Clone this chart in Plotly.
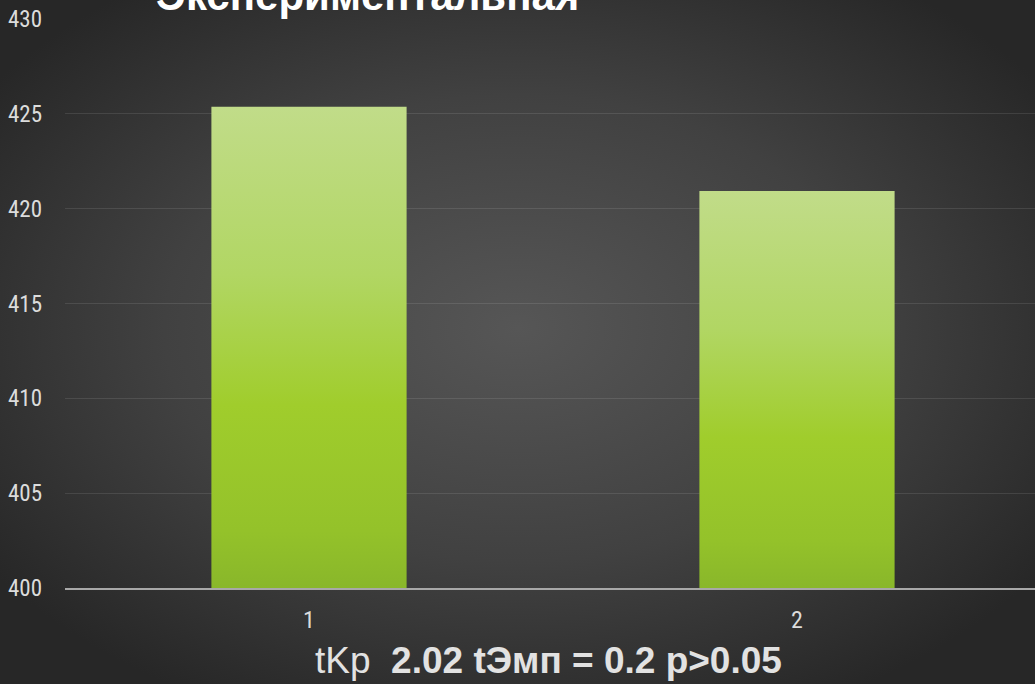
import base64
import plotly.graph_objects as go

# ---- data ----
categories = ["1", "2"]
values = [425.37, 420.93]
y_ticks = [400, 405, 410, 415, 420, 425, 430]
title_text = "Экспериментальная"
footer_regular = "tKp "
footer_bold = "2.02 tЭмп = 0.2 p>0.05"

BASE = 400
BAR_HALF = 0.2

W, H = 1035, 684
ML, MR, MT, MB = 65, 0, 19, 96
PW, PH = W - ML - MR, H - MT - MB

fig = go.Figure()

grad = [[0.0, "#89b72a"], [0.12, "#94c22a"], [0.38, "#a0cd2c"],
        [0.65, "#b1d663"], [1.0, "#c1dc89"]]

for i, (cat, v) in enumerate(zip(categories, values)):
    xs = [i - BAR_HALF, i - BAR_HALF, i + BAR_HALF, i + BAR_HALF, i - BAR_HALF]
    ys = [BASE, v, v, BASE, BASE]
    fig.add_trace(go.Scatter(
        x=xs, y=ys, mode="lines", fill="toself",
        line=dict(width=0, color="rgba(0,0,0,0)"),
        fillgradient=dict(type="vertical", colorscale=grad),
        hoverinfo="skip", showlegend=False,
    ))

# radial background
svg = f'''<svg xmlns="http://www.w3.org/2000/svg" width="{W}" height="{H}">
<defs><radialGradient id="g" cx="50%" cy="48%" r="62%">
<stop offset="0" stop-color="#565656"/>
<stop offset="0.55" stop-color="#414141"/>
<stop offset="1" stop-color="#272727"/>
</radialGradient></defs>
<rect width="{W}" height="{H}" fill="url(#g)"/></svg>'''
src = "data:image/svg+xml;base64," + base64.b64encode(svg.encode()).decode()

fig.add_layout_image(dict(
    source=src, xref="paper", yref="paper",
    x=-ML / PW, y=1 + MT / PH, sizex=W / PW, sizey=H / PH,
    xanchor="left", yanchor="top", sizing="stretch", layer="below",
))

narrow = "Roboto Condensed, Liberation Sans Narrow, sans-serif"
arial = "Liberation Sans, Arial, sans-serif"

fig.add_annotation(
    text=f"<b>{title_text}</b>", xref="paper", yref="paper",
    x=(367 - ML) / PW, y=1 + (MT - 21) / PH, xanchor="center", yanchor="bottom",
    showarrow=False, font=dict(family=arial, size=42, color="#ffffff"),
)

fig.add_annotation(
    text=f"{footer_regular} <b>{footer_bold}</b>", xref="paper", yref="paper",
    x=(548 - ML) / PW, y=-(660 - MT - PH) / PH, xanchor="center", yanchor="middle",
    showarrow=False, font=dict(family=arial, size=37, color="#e2e2e2"),
)

fig.update_layout(
    width=W, height=H,
    margin=dict(l=ML, r=MR, t=MT, b=MB, pad=0),
    paper_bgcolor="#333333", plot_bgcolor="rgba(0,0,0,0)",
    showlegend=False,
    xaxis=dict(
        range=[-0.5, -0.5 + PW / 488], tickvals=list(range(len(categories))),
        ticktext=categories, showgrid=False, zeroline=False,
        showline=True, linecolor="#a8a8a8", linewidth=2,
        ticks="", ticklabelstandoff=9,
        tickfont=dict(family=narrow, size=24, color="#dcdcdc"),
    ),
    yaxis=dict(
        range=[400, 430], tickvals=y_ticks, showgrid=True,
        gridcolor="rgba(255,255,255,0.10)", gridwidth=1, zeroline=False,
        showline=False, ticks="", ticklabelstandoff=22,
        tickfont=dict(family=narrow, size=23, color="#dcdcdc"),
    ),
)

fig.write_html(
    "out.html",
    config={"displayModeBar": False},
    post_script="document.body.style.margin='0';document.body.style.padding='0';",
)
